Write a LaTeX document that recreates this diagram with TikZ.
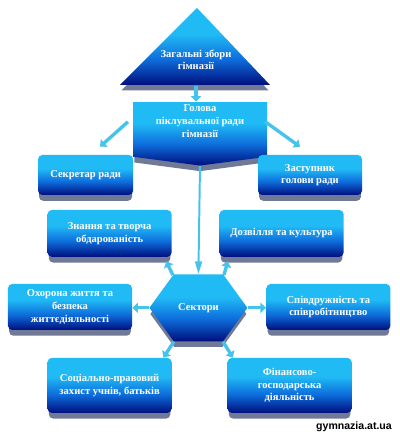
\documentclass[tikz,border=0pt]{standalone}
\usepackage{fontspec}
\setmainfont{Liberation Serif}
\newfontfamily\unitserif{Liberation Serif}
\newfontfamily\marksans{Liberation Sans}
\usetikzlibrary{
  shapes.symbols,
  arrows.meta,
  positioning,
  calc,
  shadows,
  backgrounds
}
\definecolor{skycyan}{RGB}{32,186,245}
\definecolor{midblue}{RGB}{14,110,220}
\definecolor{deepblue}{RGB}{0,14,125}
\definecolor{slabgray}{RGB}{112,122,150}
\definecolor{linkcyan}{RGB}{70,195,235}
\pgfdeclareverticalshading{unitshade}{100bp}{color(0bp)=(deepblue); color(25bp)=(deepblue); color(42bp)=(midblue); color(58bp)=(skycyan); color(100bp)=(skycyan)}

\begin{document}
\begin{tikzpicture}[
    font=\unitserif\fontsize{7.5}{9}\selectfont\bfseries,
    >=Triangle,
    slab/.style={general shadow={fill=slabgray, shadow yshift=-4.5pt, shadow scale=0.98}},
    unit/.style={shape=rectangle, rounded corners=3pt, shading=unitshade, text=white, align=center, inner sep=2pt, minimum width=3.1cm, minimum height=1.15cm, slab},
    label text/.style={text=white, align=center, inner sep=1pt},
    link/.style={-{Triangle[length=4pt, width=7pt]}, line width=2.4pt, draw=linkcyan},
    thinlink/.style={-{Triangle[length=9pt, width=5pt]}, line width=1.4pt, draw=linkcyan},
]
\useasboundingbox (0,0) rectangle (10,10.875);

% === Top: general meeting ===
\shade[shading=unitshade, slab] (3.0,8.75) -- (4.925,10.675) -- (6.75,8.75) -- cycle;
\node[label text] (zbory) at (4.9,9.38) {Загальні збори\\гімназії};
\coordinate (zbory-base) at (4.9,8.72);

% === Board chairman ===
\node[unit, shape=signal, signal to=south, signal from=nowhere, signal pointer angle=165, rounded corners=0pt, minimum width=3.35cm, minimum height=1.375cm] (holova) at (5.0,7.64) {Голова\\піклувальної ради\\гімназії\\[3pt]};

\draw[link] (zbory-base) -- (zbory-base |- holova.north);

% === Secretary and deputy ===
\node[unit, minimum width=2.375cm, minimum height=1.0cm] (sekretar) at (2.14,6.5) {Секретар ради};
\node[unit, minimum width=2.6cm, minimum height=1.0cm] (zastupnyk) at (7.75,6.5) {Заступник\\голови ради};

\draw[link] ($(holova.west)+(-0.12,0.19)$) -- ($(sekretar.north)+(0.36,0.2)$);
\draw[link] ($(holova.east)+(-0.05,0.19)$) -- ($(zastupnyk.north)+(-0.25,0.2)$);

% === Sectors hub ===
\node[unit, shape=signal, signal to=west and east, signal pointer angle=108, rounded corners=0pt, minimum width=2.45cm, minimum height=1.675cm] (sektory) at (4.96,3.18) {Сектори};

\draw[thinlink] (holova.south) -- (sektory.north);

% === Sectors ===
\node[unit, minimum height=1.17cm] (znannia) at (2.74,5.04) {Знання та творча\\обдарованість};
\node[unit, minimum height=1.17cm] (dozvillia) at (7.04,5.04) {Дозвілля та культура};
\node[unit] (okhorona) at (1.75,3.2) {Охорона життя та\\безпека\\життєдіяльності};
\node[unit] (spivdruzhnist) at (8.21,3.2) {Співдружність та\\співробітництво};
\node[unit, minimum height=1.375cm] (sotsialno) at (2.74,1.24) {Соціально-правовий\\захист учнів, батьків};
\node[unit, minimum height=1.375cm] (finansovo) at (7.24,1.24) {Фінансово-\\господарська\\діяльність};

\draw[link] (sektory.128) -- ([xshift=-4pt, yshift=-3pt]znannia.south east);
\draw[link] (sektory.52) -- ([xshift=6pt, yshift=-3pt]dozvillia.south west);
\draw[link] (sektory.west) -- (okhorona.east |- sektory.west);
\draw[link] (sektory.east) -- (spivdruzhnist.west |- sektory.east);
\draw[link] (sektory.234) -- ([xshift=-6pt]sotsialno.north east);
\draw[link] (sektory.306) -- ([xshift=4pt]finansovo.north west);

% === Site mark ===
\node[font=\marksans\fontsize{7.5}{9}\selectfont\bfseries, inner sep=1pt] (sitemark) at (8.85,0.2) {gymnazia.at.ua};

\end{tikzpicture}
\end{document}
